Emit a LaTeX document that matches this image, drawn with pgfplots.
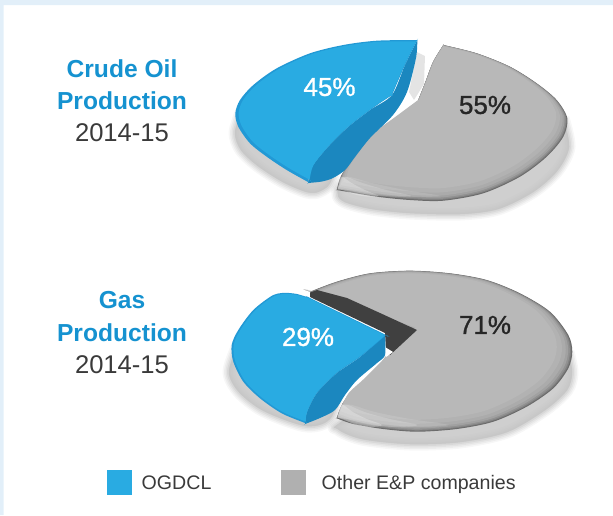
\documentclass[border=0pt]{standalone}
\usepackage{pgfplots}
\usepackage{pgfplotstable}
\pgfplotsset{compat=1.18}
\usepackage{fontspec}
\setmainfont{Liberation Sans}
\newfontfamily\med[FakeBold=1.1]{Liberation Sans}
\definecolor{bandblue}{HTML}{E2EFF9}
\definecolor{ogblue}{HTML}{29ABE2}
\definecolor{ogrim}{HTML}{2299D5}
\definecolor{ogside}{HTML}{1B87BF}
\definecolor{titleblue}{HTML}{1592D0}
\definecolor{txt}{HTML}{3A3A3A}
\definecolor{swgray}{HTML}{B0B0B0}
\definecolor{shade}{HTML}{C4C4C4}
\pgfplotstableread{
x y
443.3 45
476.7 53.3
510 66.7
536.7 83.3
556.7 100
567.3 118.3
563.3 136.7
546.7 156.7
520 176.7
483.3 193.3
443.3 200.7
410 200
376.7 196.7
350 192.3
336.7 190
336.7 190
341 176
353 158
370 138
390 123
417 103
417 103
425 83
433 62
443.3 45
443.3 45
}\graytop
\pgfplotstableread{
x y
417.3 40
376.7 40.7
343.3 45
310 53.3
276.7 68.3
253.3 85
240 100
235.3 113.3
238.3 126.7
250 143.3
266.7 156.7
286.7 170
308 182
308 182
312 167
327 148
347 128
370 110
392 95
392 95
405 65
417.3 40
417.3 40
}\bluetop
\pgfplotstableread{
x y
417.3 40
416 58
407 92
393 115
370 138
355 157
345 170
333 178
322 181.5
308 183
308 183
312 167
327 148
347 128
370 110
392 95
405 65
417.3 40
}\bluetopside
\pgfplotstableread{
x y
563 118
569 147
557 171
533 192
498 209
460 214
410 213
372 209
345 202
338 194
348 180
450 120
}\shadowA
\pgfplotstableread{
x y
241 113
235 133
241 150
258 166
283 182
307 192
320 191
332 178
340 120
}\shadowB
\pgfplotstableread{
x y
337.5 189.5
350 190
376 194
410 196.5
440 196
405 190
372 183
350 177
342 178
}\hilitetop
\pgfplotstableread{
x y
310 291.7
336.7 281.7
370 273.3
410 270.7
450 273.3
486.7 280
520 293.3
550 311.7
568.3 335
572.3 351.7
568.3 368.3
553.3 388.3
526.7 406.7
493.3 421.7
456.7 429
416.7 431.7
383.3 429
353.3 424
336.7 418.3
336.7 418.3
343 403
360 387
380 367
390 355
417 330
417 330
310 291.7
310 291.7
}\graybot
\pgfplotstableread{
x y
286.7 292.8
297 294
310 298
310 298
385 334.5
385 334.5
384 337
384 337
360 357
337 373
317 393
307 412
305 423
305 423
281.7 413.3
260 398.3
243.3 381.7
233.3 361.7
231.7 345
238.3 330
253.3 310
273.3 295
286.7 292.8
}\bluebot
\pgfplotstableread{
x y
385 335
385 355
377 363
357 380
345 395
335 410
320 418
305 424
305 424
307 412
317 393
337 373
360 357
385 335
}\bluebotside
\pgfplotstableread{
x y
568 352
572 372
567 390
545 410
507 432
460 442
410 444
362 439
338 429
344 420
450 350
}\shadowC
\pgfplotstableread{
x y
238 345
229 372
239 392
264 411
307 426
332 416
340 370
}\shadowD
\pgfplotstableread{
x y
337.5 417.8
352 419.5
382 424.5
416 427
448 425
410 419
375 412
352 405
342 405
}\hilitebot
\newcommand\layer[5]{\addplot[smooth,tension=0.5,fill=#5,draw=none] table[x expr={#2+(\thisrow{x}-#2)*#4},y expr={#3+(\thisrow{y}-#3)*#4}] {#1};}
\newcommand\soft[1]{%
\addplot[smooth,fill=shade,draw=shade,line width=13pt,line join=round,opacity=.14] table {#1};
\addplot[smooth,fill=shade,draw=shade,line width=10pt,line join=round,opacity=.18] table {#1};
\addplot[smooth,fill=shade,draw=shade,line width=7pt,line join=round,opacity=.25] table {#1};
\addplot[smooth,fill=shade,draw=shade,line width=4pt,line join=round,opacity=.35] table {#1};
\addplot[smooth,fill=shade,draw=shade,line width=1pt,line join=round,opacity=.45] table {#1};}
\newcommand\hilite[1]{%
\addplot[smooth,tension=.6,fill=white,draw=none,opacity=.12] table {#1};
\addplot[smooth,tension=.6,fill=white,draw=none,opacity=.18] table[x expr={338+(\thisrow{x}-338)*.72},y expr={\thisrow{y}}] {#1};
\addplot[smooth,tension=.6,fill=white,draw=none,opacity=.26] table[x expr={338+(\thisrow{x}-338)*.4},y expr={\thisrow{y}}] {#1};}
\begin{document}
\begin{tikzpicture}
\begin{axis}[scale only axis,width=613pt,height=515pt,xmin=0,xmax=613,ymin=0,ymax=515,y dir=reverse,hide axis]
% page band
\addplot[fill=bandblue,draw=none] coordinates {(0,0)(613,0)(613,5)(3.5,5)(3.5,515)(0,515)};
% top pie
\soft{\shadowA}\soft{\shadowB}
\addplot[fill=shade,draw=none,opacity=.45] coordinates {(417,52)(425,56)(424,84)(414,100)(409,92)};
\layer{\graytop}{443}{60}{1}{black!58}
\layer{\graytop}{443}{60}{.993}{black!50}
\layer{\graytop}{443}{60}{.986}{black!43}
\layer{\graytop}{443}{60}{.976}{black!37}
\layer{\graytop}{443}{60}{.962}{black!33}
\layer{\graytop}{443}{60}{.94}{black!30}
\layer{\graytop}{443}{60}{.91}{black!28}
\hilite{\hilitetop}
\addplot[smooth,tension=.5,fill=ogside,draw=none] table {\bluetopside};
\layer{\bluetop}{370}{90}{1}{ogrim}
\layer{\bluetop}{370}{90}{.975}{ogblue}
% bottom pie
\soft{\shadowC}\soft{\shadowD}
\layer{\graybot}{400}{300}{1}{black!58}
\layer{\graybot}{400}{300}{.993}{black!50}
\layer{\graybot}{400}{300}{.986}{black!43}
\layer{\graybot}{400}{300}{.976}{black!37}
\layer{\graybot}{400}{300}{.962}{black!33}
\layer{\graybot}{400}{300}{.94}{black!30}
\layer{\graybot}{400}{300}{.91}{black!28}
\hilite{\hilitebot}
\addplot[fill=black!75,draw=none] coordinates {(310,292.5)(317,290)(347,298)(380,313)(417,330)(390,355)(386,350)(385,333)(310,297)};
\addplot[fill=white,draw=none] coordinates {(385,347)(393,352)(386,357)};
\addplot[smooth,tension=.5,fill=ogside,draw=none] table {\bluebotside};
\layer{\bluebot}{330}{345}{1}{ogrim}
\layer{\bluebot}{330}{345}{.98}{ogblue}
% legend swatches
\addplot[fill=ogblue,draw=none] coordinates {(107,470)(132,470)(132,495)(107,495)};
\addplot[fill=swgray,draw=none] coordinates {(281,470)(306,470)(306,495)(281,495)};
% text
\node[text=titleblue,font=\fontsize{24.6}{28}\bfseries\selectfont] at (axis cs:122,68.5) {Crude Oil};
\node[text=titleblue,font=\fontsize{24.6}{28}\bfseries\selectfont] at (axis cs:122,100.5) {Production};
\node[text=txt,font=\fontsize{25.6}{28}\selectfont] at (axis cs:122,133) {2014-15};
\node[text=titleblue,font=\fontsize{24.6}{28}\bfseries\selectfont] at (axis cs:122,300.5) {Gas};
\node[text=titleblue,font=\fontsize{24.6}{28}\bfseries\selectfont] at (axis cs:122,332.5) {Production};
\node[text=txt,font=\fontsize{25.6}{28}\selectfont] at (axis cs:122,365) {2014-15};
\node[text=white,font=\fontsize{26}{28}\med\selectfont] at (axis cs:329.5,87) {45\%};
\node[text=black!85,font=\fontsize{26}{28}\med\selectfont] at (axis cs:485,105) {55\%};
\node[text=white,font=\fontsize{26}{28}\med\selectfont] at (axis cs:308,337) {29\%};
\node[text=black!85,font=\fontsize{26}{28}\med\selectfont] at (axis cs:485,325) {71\%};
\node[text=txt,anchor=base west,inner sep=0pt,font=\fontsize{19.6}{22}\selectfont] at (axis cs:141.5,489) {OGDCL};
\node[text=txt,anchor=base west,inner sep=0pt,font=\fontsize{19.6}{22}\selectfont] at (axis cs:321.5,489) {Other E\&P companies};
\end{axis}
\end{tikzpicture}
\end{document}
